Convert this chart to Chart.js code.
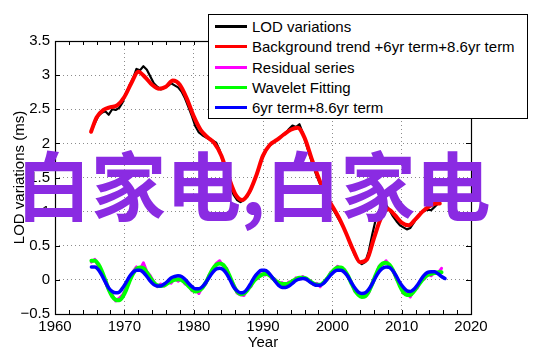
<!DOCTYPE html>
<html><head><meta charset="utf-8">
<script src="https://cdn.jsdelivr.net/npm/chart.js@4"></script>
<style>
html,body{margin:0;padding:0;background:#fff;}
#wrap{position:relative;width:542px;height:356px;overflow:hidden;}
#legend{position:absolute;left:208px;top:14px;width:320px;height:105px;border:1px solid #000;background:#fff;box-sizing:border-box;font:15px "Liberation Sans",Arial,sans-serif;color:#000;}
.row{position:absolute;left:0;height:20px;display:flex;align-items:center;white-space:nowrap;}
.sw{width:32px;height:3px;margin-left:6px;margin-right:5px;}
#wm{position:absolute;left:16px;top:145px;font-family:"Noto Sans CJK SC";font-weight:bold;font-size:75px;line-height:75px;color:#8a2be2;white-space:nowrap;}
</style>
</head><body>
<div id="wrap">
<canvas id="c" width="542" height="356"></canvas>
<div id="legend"></div>
<div id="wm">白家电,白家电</div>
</div>
<script>
// ---- data ----
const YEARS = [1965.25,1965.75,1966.25,1966.75,1967.25,1967.75,1968.25,1968.75,1969.25,1969.75,
1970.25,1970.75,1971.25,1971.75,1972.25,1972.75,1973.25,1973.75,1974.25,1974.75,
1975.25,1975.75,1976.25,1976.75,1977.25,1977.75,1978.25,1978.75,1979.25,1979.75,
1980.25,1980.75,1981.25,1981.75,1982.25,1982.75,1983.25,1983.75,1984.25,1984.75,
1985.25,1985.75,1986.25,1986.75,1987.25,1987.75,1988.25,1988.75,1989.25,1989.75,
1990.25,1990.75,1991.25,1991.75,1992.25,1992.75,1993.25,1993.75,1994.25,1994.75,
1995.25,1995.75,1996.25,1996.75,1997.25,1997.75,1998.25,1998.75,1999.25,1999.75,
2000.25,2000.75,2001.25,2001.75,2002.25,2002.75,2003.25,2003.75,2004.25,2004.75,
2005.25,2005.75,2006.25,2006.75,2007.25,2007.75,2008.25,2008.75,2009.25,2009.75,
2010.25,2010.75,2011.25,2011.75,2012.25,2012.75,2013.25,2013.75,2014.25,2014.75,
2015.25,2015.75,2016.25];

const lodVariations = [2.18,2.30,2.40,2.45,2.47,2.42,2.50,2.49,2.52,2.60,
2.74,2.85,2.95,3.09,3.07,3.13,3.08,2.98,2.88,2.83,
2.79,2.82,2.84,2.88,2.85,2.82,2.76,2.66,2.53,2.40,
2.25,2.16,2.12,2.09,2.06,2.04,2.01,1.90,1.72,1.55,
1.38,1.25,1.17,1.14,1.17,1.22,1.32,1.45,1.60,1.75,
1.86,1.95,1.99,2.03,2.07,2.12,2.15,2.21,2.26,2.24,
2.28,2.15,1.98,1.82,1.66,1.52,1.40,1.27,1.17,1.07,
1.01,0.92,0.83,0.74,0.62,0.48,0.36,0.27,0.23,0.26,
0.42,0.66,0.88,1.02,1.07,1.10,1.02,0.93,0.86,0.80,
0.77,0.74,0.76,0.84,0.92,0.98,1.01,1.03,1.02,1.07,
1.12];

const TREND_YEARS = [1965.2,1966,1967,1968,1969,1970,1971,1972,1973,1974,1975,1976,1977,1978,1979,
1980,1981,1982,1983,1984,1985,1986,1987,1988,1989,1990,1991,1992,1993,1994,1995,1996,1997,1998,1999,
2000,2001,2002,2003,2004,2005,2006,2007,2008,2009,2010,2011,2012,2013,2014,2015,2015.5];
const backgroundTrend = [2.17,2.38,2.49,2.53,2.56,2.68,2.88,3.05,2.97,2.86,2.80,2.83,2.92,2.86,2.66,
2.40,2.20,2.09,2.00,1.82,1.52,1.26,1.17,1.28,1.52,1.82,1.98,2.05,2.13,2.20,2.23,2.08,1.78,1.50,1.25,
1.08,0.90,0.68,0.44,0.26,0.30,0.61,0.90,1.04,0.95,0.84,0.80,0.89,1.00,1.08,1.12,1.12];

const residualSeries = [0.26,0.30,0.20,0.12,-0.03,-0.15,-0.22,-0.31,-0.27,-0.22,
-0.12,0.03,0.12,0.19,0.15,0.25,0.12,0.06,-0.03,-0.10,
-0.06,-0.09,-0.02,-0.05,0.03,-0.02,0.02,-0.06,-0.07,-0.16,
-0.14,-0.20,-0.10,-0.06,0.08,0.14,0.24,0.28,0.20,0.17,
0.02,-0.06,-0.19,-0.22,-0.23,-0.13,-0.10,0.01,0.02,0.09,
0.07,0.10,0.02,0.01,-0.07,-0.04,-0.08,-0.03,-0.04,0.03,
0.01,0.05,0.00,-0.01,-0.07,-0.05,-0.10,-0.03,0.00,0.11,
0.13,0.20,0.16,0.15,0.04,-0.03,-0.17,-0.20,-0.24,-0.22,
-0.19,-0.04,0.05,0.20,0.22,0.28,0.20,0.15,0.01,-0.07,
-0.20,-0.20,-0.25,-0.15,-0.12,-0.01,0.01,0.09,0.06,0.12,
0.10,0.17];

const waveletFitting = [0.28,0.28,0.23,0.13,0.00,-0.14,-0.24,-0.29,-0.30,-0.25,
-0.15,-0.02,0.09,0.16,0.18,0.17,0.11,0.03,-0.04,-0.08,
-0.09,-0.08,-0.05,-0.02,0.00,0.01,0.00,-0.04,-0.09,-0.14,
-0.17,-0.16,-0.12,-0.04,0.06,0.16,0.22,0.24,0.22,0.15,
0.04,-0.08,-0.17,-0.21,-0.20,-0.15,-0.08,-0.01,0.04,0.07,
0.09,0.08,0.04,-0.01,-0.04,-0.06,-0.06,-0.05,-0.02,0.01,
0.03,0.03,0.02,-0.02,-0.05,-0.07,-0.07,-0.04,0.02,0.09,
0.15,0.18,0.18,0.14,0.06,-0.05,-0.15,-0.22,-0.25,-0.24,
-0.17,-0.06,0.07,0.18,0.24,0.25,0.22,0.14,0.03,-0.09,
-0.18,-0.22,-0.22,-0.17,-0.10,-0.03,0.03,0.07,0.09,0.10,
0.11,0.11];

const sixPlusEight = [0.19,0.19,0.15,0.07,-0.03,-0.12,-0.17,-0.19,-0.18,-0.12,
-0.04,0.05,0.11,0.14,0.14,0.11,0.05,-0.02,-0.07,-0.09,
-0.09,-0.06,-0.02,0.03,0.05,0.06,0.05,0.01,-0.05,-0.10,
-0.13,-0.13,-0.10,-0.04,0.04,0.11,0.16,0.17,0.15,0.09,
0.00,-0.10,-0.16,-0.19,-0.18,-0.13,-0.05,0.04,0.10,0.14,
0.14,0.11,0.05,-0.02,-0.08,-0.11,-0.11,-0.09,-0.05,-0.01,
0.01,0.02,0.01,-0.03,-0.06,-0.08,-0.08,-0.05,0.01,0.07,
0.12,0.14,0.14,0.11,0.05,-0.04,-0.12,-0.18,-0.20,-0.19,
-0.14,-0.06,0.04,0.12,0.17,0.19,0.18,0.13,0.05,-0.04,
-0.11,-0.16,-0.17,-0.14,-0.08,0.00,0.07,0.11,0.12,0.12,
0.09,0.05,0.02];

const X_TICKS = [1960,1970,1980,1990,2000,2010,2020];
const Y_TICKS = [-0.5,0,0.5,1,1.5,2,2.5,3,3.5];
const SERIES_NAMES = ["LOD variations","Background trend +6yr term+8.6yr term","Residual series","Wavelet Fitting","6yr term+8.6yr term"];
const SERIES_COLORS = ["#000000","#ff0000","#ff00ff","#00ff00","#0000ff"];

// ---- build ----
const pts = (xs, ys) => ys.map((v,i)=>({x:xs[i], y:v}));
const FONT = {family:'"Liberation Sans", Arial, sans-serif', size:15};

const framePlugin = {
  id:'frame',
  afterDatasetsDraw(chart){
    const {ctx, chartArea:a, scales:{x,y}} = chart;
    ctx.save();
    ctx.strokeStyle='#000'; ctx.lineWidth=1;
    ctx.beginPath();
    for (let v=1962; v<2020; v+=2){
      const px = Math.round(x.getPixelForValue(v))+0.5;
      ctx.moveTo(px,a.bottom); ctx.lineTo(px,a.bottom-4);
      ctx.moveTo(px,a.top); ctx.lineTo(px,a.top+4);
    }
    Y_TICKS.forEach(v=>{
      const py = Math.round(y.getPixelForValue(v))+0.5;
      ctx.moveTo(a.left,py); ctx.lineTo(a.left+5,py);
      ctx.moveTo(a.right,py); ctx.lineTo(a.right-5,py);
    });
    ctx.stroke();
    ctx.lineWidth=1.2;
    ctx.strokeRect(Math.round(a.left)+0.5, Math.round(a.top)+0.5, Math.round(a.right-a.left), Math.round(a.bottom-a.top));
    ctx.restore();
  }
};

new Chart(document.getElementById('c'), {
  type:'line',
  data:{datasets:[
    {label:SERIES_NAMES[0], data:pts(YEARS,lodVariations), borderColor:SERIES_COLORS[0], borderWidth:2.2, order:5},
    {label:SERIES_NAMES[1], data:pts(TREND_YEARS,backgroundTrend), borderColor:SERIES_COLORS[1], borderWidth:4, cubicInterpolationMode:'monotone', order:4},
    {label:SERIES_NAMES[2], data:pts(YEARS,residualSeries), borderColor:SERIES_COLORS[2], borderWidth:3, order:3},
    {label:SERIES_NAMES[3], data:pts(YEARS,waveletFitting), borderColor:SERIES_COLORS[3], borderWidth:4, cubicInterpolationMode:'monotone', order:2},
    {label:SERIES_NAMES[4], data:pts(YEARS,sixPlusEight), borderColor:SERIES_COLORS[4], borderWidth:3.5, cubicInterpolationMode:'monotone', order:1}
  ]},
  options:{
    responsive:false, animation:false, devicePixelRatio:1,
    layout:{padding:{left:0,top:41,right:71,bottom:0}},
    plugins:{legend:{display:false}, tooltip:{enabled:false}},
    elements:{point:{radius:0}, line:{borderCapStyle:'round', borderJoinStyle:'round', fill:false}},
    scales:{
      x:{type:'linear', min:1960, max:2020,
        afterBuildTicks:s=>{s.ticks = X_TICKS.map(v=>({value:v}));},
        afterFit:s=>{s.height=42;},
        ticks:{font:FONT, color:'#000', padding:4, maxRotation:0, autoSkip:false, callback:v=>String(v)},
        grid:{drawTicks:false, color:'rgba(0,0,0,0.45)', lineWidth:1},
        border:{display:false, dash:[1,3]},
        title:{display:true, text:'Year', font:FONT, color:'#000', padding:{top:0,bottom:4}}
      },
      y:{min:-0.5, max:3.5,
        afterBuildTicks:s=>{s.ticks = Y_TICKS.map(v=>({value:v}));},
        afterFit:s=>{s.width=55;},
        ticks:{font:FONT, color:'#000', padding:5, autoSkip:false, callback:v=> v<0 ? '\u2212'+Math.abs(v) : String(v)},
        grid:{drawTicks:false, color:'rgba(0,0,0,0.45)', lineWidth:1},
        border:{display:false, dash:[1,3]},
        title:{display:true, text:'LOD variations (ms)', font:FONT, color:'#000', padding:{top:11,bottom:0}}
      }
    }
  },
  plugins:[framePlugin]
});

// legend (HTML text)
const lg = document.getElementById('legend');
SERIES_NAMES.forEach((n,i)=>{
  const r = document.createElement('div');
  r.className='row';
  r.style.top = (1.7 + i*20.15)+'px';
  r.innerHTML = '<div class="sw" style="background:'+SERIES_COLORS[i]+'"></div><span>'+n+'</span>';
  lg.appendChild(r);
});
</script>
</body></html>
